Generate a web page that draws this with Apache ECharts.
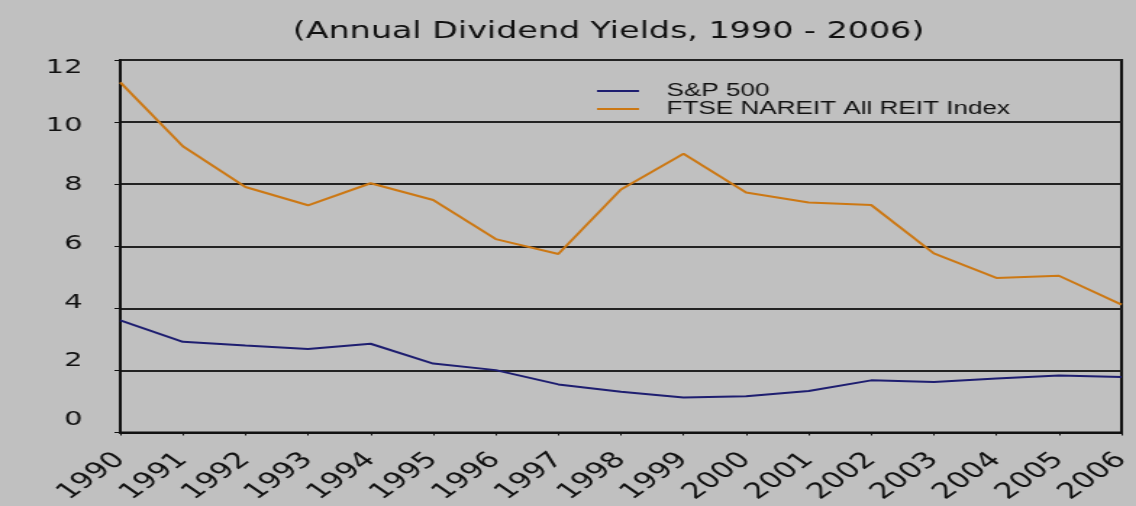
<!DOCTYPE html>
<html><head><meta charset="utf-8">
<script src="https://cdn.jsdelivr.net/npm/echarts@6/dist/echarts.min.js"></script>
<style>
html,body{margin:0;padding:0;background:#c0c0c0;overflow:hidden;width:1136px;height:506px;}
#c{width:784px;height:506px;transform:scaleX(1.449);transform-origin:0 0;}
</style>
</head><body><div id="c"></div>
<script>
const years = ['1990','1991','1992','1993','1994','1995','1996','1997','1998','1999','2000','2001','2002','2003','2004','2005','2006'];
const sp500 = [3.61,2.92,2.80,2.69,2.86,2.22,2.01,1.55,1.31,1.13,1.17,1.34,1.68,1.63,1.74,1.84,1.79];
const reit = [11.28,9.22,7.91,7.32,8.03,7.49,6.23,5.75,7.83,8.98,7.73,7.41,7.33,5.77,4.98,5.05,4.12];
const yTicks = [0,2,4,6,8,10,12];
const titleText = '(Annual Dividend Yields, 1990 - 2006)';
const seriesNames = ['S&P 500','FTSE NAREIT All REIT Index'];

const chart = echarts.init(document.getElementById('c'));
chart.setOption({
  backgroundColor:'#c0c0c0',
  animation:false,
  title:{text:titleText,left:415,textAlign:'center',top:16,
    textStyle:{fontFamily:'DejaVu Sans',fontWeight:'normal',fontSize:23,color:'#111'}},
  legend:{orient:'vertical',left:412,top:82,padding:0,itemGap:0,itemWidth:29,itemHeight:2,icon:'rect',
    textStyle:{fontFamily:'Liberation Sans',fontSize:18,color:'#111',padding:[0,0,0,14],lineHeight:15},
    data:seriesNames},
  grid:{left:83,right:10,top:60,bottom:71,show:true,borderColor:'#111',borderWidth:2,backgroundColor:'transparent'},
  xAxis:{type:'category',data:years,boundaryGap:false,
    axisLine:{lineStyle:{color:'#111',width:2}},
    axisTick:{show:true,length:3,lineStyle:{color:'#111'}},
    axisLabel:{rotate:45,fontFamily:'DejaVu Sans',fontSize:22,color:'#111',margin:24,interval:0}},
  yAxis:[
    {type:'value',min:0,max:12,interval:2,
      axisLine:{show:true,lineStyle:{color:'#111',width:2}},
      axisTick:{show:true,length:4,lineStyle:{color:'#111'}},
      splitLine:{lineStyle:{color:'#222',width:2}},
      axisLabel:{show:false}},
    {type:'value',position:'left',min:-0.424,max:12.249,
      axisLine:{show:false},axisTick:{show:false},splitLine:{show:false},
      axisLabel:{customValues:yTicks,fontFamily:'DejaVu Sans',fontSize:20,color:'#111',margin:26}}
  ],
  series:[
    {name:seriesNames[0],type:'line',yAxisIndex:0,data:sp500,symbol:'none',lineStyle:{color:'#1e1e70',width:2},itemStyle:{color:'#1e1e70'}},
    {name:seriesNames[1],type:'line',yAxisIndex:0,data:reit,symbol:'none',lineStyle:{color:'#cc7814',width:2},itemStyle:{color:'#cc7814'}}
  ]
});
</script></body></html>
